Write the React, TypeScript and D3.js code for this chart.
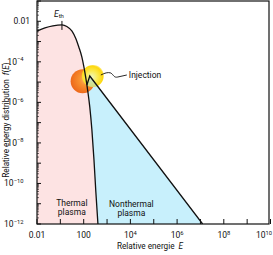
import React from "react";
import * as d3 from "d3";

// ---- data ----
const thermalE = [1, 2.19, 4.79, 11.7, 19, 31.6, 46.8, 61.7, 83.2, 102, 123, 151, 182, 224, 275, 331, 407];
const thermalF = [3.3e-3, 4.7e-3, 5.9e-3, 6.6e-3, 5.5e-3, 3.3e-3, 1.35e-3, 5.4e-4, 1.74e-4, 5.6e-5, 1.6e-5, 3.3e-6, 6e-7, 4.5e-8, 1.5e-9, 3.9e-11, 1e-12];
const nonthermalE = [137, 182, 1.24e7];
const nonthermalF = [7.2e-6, 2.0e-5, 1e-12];
const xTickValues = [1, 1e2, 1e4, 1e6, 1e8, 1e10];
const xTickBase = ["0.01", "100", "10", "10", "10", "10"];
const xTickExp = ["", "", "4", "6", "8", "10"];
const yTickValues = [1e-2, 1e-4, 1e-6, 1e-8, 1e-10, 1e-12];
const yTickBase = ["0.01", "10", "10", "10", "10", "10"];
const yTickExp = ["", "\u22124", "\u22126", "\u22128", "\u221210", "\u221212"];
const eThermal = 11.7;
const injectionOrange = { E: 90, F: 1.1e-5 };
const injectionYellow = { E: 246, F: 2.0e-5 };

const W = 273, H = 255;
const L = 37, R = 269, T = 1, B = 224;
const FONT = "Roboto, 'Noto Sans', sans-serif";
const INK = "#111";

export default function App() {
  const x = d3.scaleLog().domain([1, 1e10]).range([L, 270.5]);
  const y = d3.scaleLog().domain([1e-12, 1e-1]).range([B, T]);

  const thermal = thermalE.map((e, i) => [e, thermalF[i]] as [number, number]);
  const nonthermal = nonthermalE.map((e, i) => [e, nonthermalF[i]] as [number, number]);

  const line = d3.line<[number, number]>().x(d => x(d[0])).y(d => y(d[1])).curve(d3.curveMonotoneX);
  const area = d3.area<[number, number]>().x(d => x(d[0])).y0(y(1e-12)).y1(d => y(d[1])).curve(d3.curveMonotoneX);
  const straight = d3.line<[number, number]>().x(d => x(d[0])).y(d => y(d[1]));

  const bluePoly: [number, number][] = [...nonthermal, [100, 1e-12]];
  const bluePath = straight(bluePoly) + "Z";

  const xMajor = d3.range(0, 11).map(k => Math.pow(10, k));
  const yMajor = d3.range(-12, 0).map(k => Math.pow(10, k));
  const yMinor: number[] = [];
  for (let k = -12; k < -1; k++) for (let m = 2; m <= 9; m++) yMinor.push(m * Math.pow(10, k));

  const ox = x(injectionOrange.E), oy = y(injectionOrange.F);
  const yx = x(injectionYellow.E), yy = y(injectionYellow.F);
  const ex = x(eThermal), ey = y(6.6e-3);

  return (
    <svg width={W} height={H} style={{ position: "absolute", left: 0, top: 0, background: "#fff" }} fontFamily={FONT}>
      <defs>
        <radialGradient id="og" cx="0.55" cy="0.45" r="0.6" fx="0.7" fy="0.4">
          <stop offset="0" stopColor="#fdc080" />
          <stop offset="0.45" stopColor="#f8902e" />
          <stop offset="1" stopColor="#ec6418" />
        </radialGradient>
        <radialGradient id="yg" cx="0.45" cy="0.55" r="0.55">
          <stop offset="0" stopColor="#eef7c0" />
          <stop offset="0.5" stopColor="#fbea50" />
          <stop offset="0.9" stopColor="#fdd810" />
          <stop offset="1" stopColor="#fdd810" stopOpacity="0.7" />
        </radialGradient>
        <clipPath id="yc"><circle cx={yx} cy={yy} r={11} /></clipPath>
        <clipPath id="plot"><rect x={L} y={T} width={R - L} height={B - T} /></clipPath>
      </defs>

      <g clipPath="url(#plot)">
        <path d={bluePath} fill="#c8f0fc" />
        <path d={area(thermal) || ""} fill="#fde3e3" />
        <circle cx={ox} cy={oy} r={12} fill="url(#og)" />
        <circle cx={yx} cy={yy} r={11} fill="url(#yg)" />
        <path d={bluePath} fill="#9fdcf0" opacity={0.45} clipPath="url(#yc)" />
        <path d={line(thermal) || ""} fill="none" stroke={INK} strokeWidth={1.3} />
        <path d={straight(nonthermal) || ""} fill="none" stroke={INK} strokeWidth={1.3} />
      </g>

      {/* E_th marker */}
      <line x1={ex} x2={ex} y1={ey - 4} y2={ey + 5} stroke={INK} strokeWidth={1} />
      <text x={ex - 3} y={ey - 8} fontSize={8.5} fill={INK} textAnchor="middle">
        <tspan fontStyle="italic">E</tspan>
        <tspan fontSize={6} dy={1.5}>th</tspan>
      </text>

      {/* injection label */}
      <path d={`M${yx + 8},${yy - 1} C${yx + 12},${yy - 3} ${yx + 15},${yy - 4} ${yx + 18},${yy - 3} C${yx + 21},${yy - 1} ${yx + 21},${yy + 2} ${yx + 25},${yy + 1} L${yx + 34},${yy - 1}`}
        fill="none" stroke={INK} strokeWidth={0.9} />
      <text x={yx + 36} y={yy + 2} fontSize={8.5} fill={INK}>Injection</text>

      <text textAnchor="middle" fontSize={8.5} fill={INK}>
        <tspan x={x(31)} y={206}>Thermal</tspan>
        <tspan x={x(31)} y={215}>plasma</tspan>
      </text>
      <text textAnchor="middle" fontSize={8.5} fill={INK}>
        <tspan x={x(1.1e4)} y={207}>Nonthermal</tspan>
        <tspan x={x(1.1e4)} y={216}>plasma</tspan>
      </text>

      {/* frame */}
      <rect x={L} y={T} width={R - L} height={B - T} fill="none" stroke={INK} strokeWidth={1.2} />

      {xMajor.map((v, i) => (
        <line key={"xm" + i} x1={x(v)} x2={x(v)} y1={B} y2={B - 5} stroke={INK} strokeWidth={1} />
      ))}
      {yMajor.map((v, i) => (
        <line key={"ym" + i} x1={L} x2={L + 4} y1={y(v)} y2={y(v)} stroke={INK} strokeWidth={1} />
      ))}
      {yMinor.map((v, i) => (
        <line key={"yn" + i} x1={L} x2={L + 2} y1={y(v)} y2={y(v)} stroke={INK} strokeWidth={0.6} />
      ))}

      {xTickValues.map((v, i) => {
        const px = Math.min(x(v), 264);
        return (
          <text key={"xl" + i} x={px} y={238} fontSize={8.5} fill={INK} textAnchor="middle">
            {xTickBase[i]}
            {xTickExp[i] && <tspan fontSize={5.8} dy={-3.5}>{xTickExp[i]}</tspan>}
          </text>
        );
      })}
      {yTickValues.map((v, i) => (
        <text key={"yl" + i} x={yTickExp[i] ? 23.5 : 30} y={y(v) + 3} fontSize={8.5} fill={INK} textAnchor="end">
          {yTickBase[i]}
          {yTickExp[i] && <tspan fontSize={5.8} dy={-3.5}>{yTickExp[i]}</tspan>}
        </text>
      ))}

      <text x={150} y={249} fontSize={8.2} fill={INK} textAnchor="middle">
        Relative energie <tspan fontStyle="italic" dx={2}>E</tspan>
      </text>
      <text transform="translate(8.5,120) rotate(-90)" fontSize={8.2} fill={INK} textAnchor="middle">
        Relative energy distribution <tspan fontStyle="italic" dx={2}>f</tspan>(<tspan fontStyle="italic">E</tspan>)
      </text>
    </svg>
  );
}
